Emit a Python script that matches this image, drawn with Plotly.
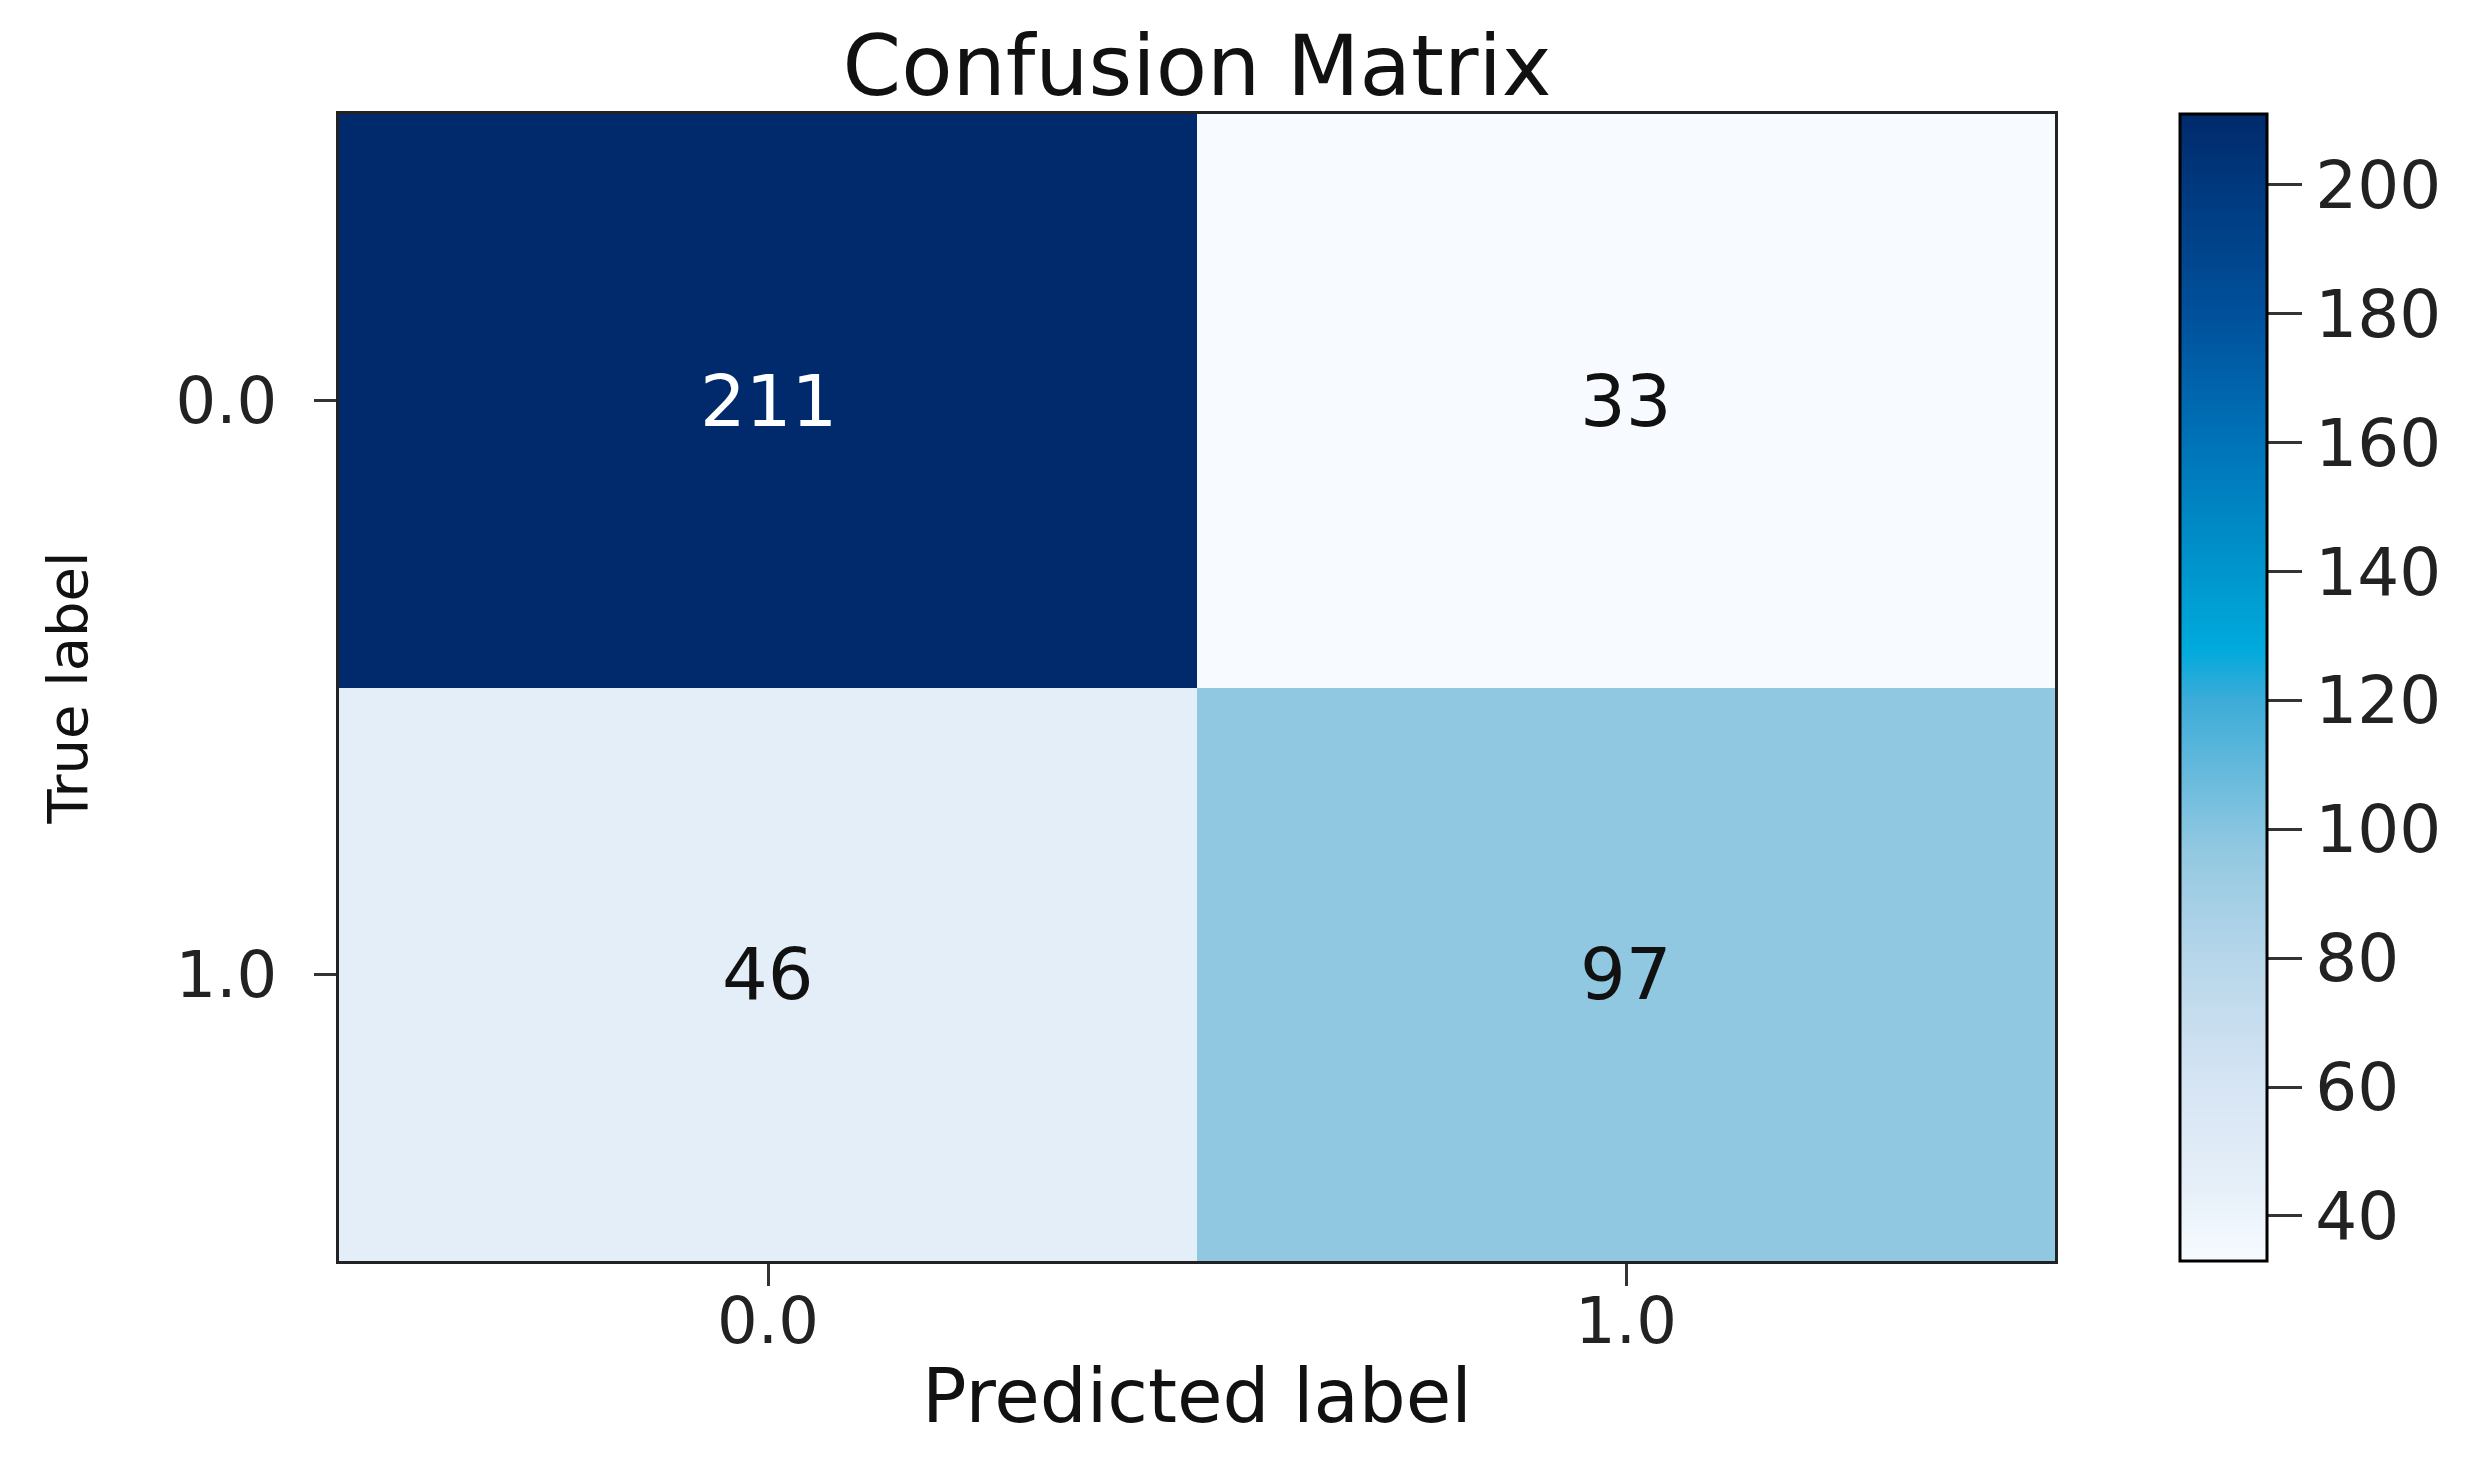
import plotly.graph_objects as go

# ---- data ----
class_labels = ["0.0", "1.0"]
true_labels = ["0.0", "1.0"]
counts_row0 = [211, 33]
counts_row1 = [46, 97]
cbar_ticks = [40, 60, 80, 100, 120, 140, 160, 180, 200]
chart_title = "Confusion Matrix"
x_title = "Predicted label"
y_title = "True label"

z = [counts_row0, counts_row1]
zmin = min(min(r) for r in z)
zmax = max(max(r) for r in z)

FONT = "DejaVu Sans"

colorscale = [
    [0.000, "rgb(247,251,255)"],
    [0.073, "rgb(228,238,248)"],
    [0.152, "rgb(214,229,244)"],
    [0.264, "rgb(183,214,234)"],
    [0.360, "rgb(145,200,225)"],
    [0.489, "rgb(60,172,216)"],
    [0.534, "rgb(0,170,220)"],
    [0.600, "rgb(0,150,205)"],
    [0.713, "rgb(0,115,184)"],
    [0.826, "rgb(0,80,155)"],
    [1.000, "rgb(0,42,108)"],
]

xs = list(range(len(class_labels)))
ys = list(range(len(true_labels)))

fig = go.Figure()
fig.add_trace(go.Heatmap(
    z=z, x=xs, y=ys,
    zmin=zmin, zmax=zmax,
    colorscale=colorscale,
    showscale=True,
    colorbar=dict(
        x=1.073, xanchor="left", xref="paper", xpad=0,
        y=0.5, yanchor="middle", len=1, lenmode="fraction", ypad=0,
        thickness=87, thicknessmode="pixels",
        outlinecolor="black", outlinewidth=3,
        tickvals=cbar_ticks, ticks="outside", ticklen=34, tickwidth=3,
        tickcolor="#333333",
        tickfont=dict(family=FONT, size=66, color="#222222"),
    ),
    hoverinfo="skip",
))

thresh = zmax / 2.0
for i, row in enumerate(z):
    for j, v in enumerate(row):
        fig.add_annotation(
            x=xs[j], y=ys[i], text=str(v), showarrow=False,
            font=dict(family=FONT, size=72, color="white" if v > thresh else "#111111"),
        )

fig.update_layout(
    width=2488, height=1462,
    margin=dict(l=331, r=441, t=106, b=209),
    paper_bgcolor="white", plot_bgcolor="white",
    title=dict(text=chart_title, x=0.5, xref="paper", xanchor="center",
               y=1 - 58 / 1462, yanchor="middle",
               font=dict(family=FONT, size=84, color="#111111")),
    font=dict(family=FONT, color="#222222"),
)
fig.update_xaxes(
    range=[-0.5, 1.5], tickvals=xs, ticktext=class_labels,
    ticks="outside", ticklen=22, tickwidth=3, tickcolor="#333333",
    tickfont=dict(family=FONT, size=64, color="#222222"),
    ticklabelstandoff=-20,
    showline=True, linecolor="#222222", linewidth=3, mirror=True,
    showgrid=False, zeroline=False,
    title=dict(text=x_title, font=dict(family=FONT, size=74, color="#111111"), standoff=14),
)
fig.update_yaxes(
    range=[1.5, -0.5], tickvals=ys, ticktext=true_labels,
    ticks="outside", ticklen=22, tickwidth=3, tickcolor="#333333",
    tickfont=dict(family=FONT, size=64, color="#222222"),
    ticklabelstandoff=24,
    showline=True, linecolor="#222222", linewidth=3, mirror=True,
    showgrid=False, zeroline=False,
    title=dict(text=y_title, font=dict(family=FONT, size=56, color="#111111"), standoff=70),
)

fig.write_html("out.html")
